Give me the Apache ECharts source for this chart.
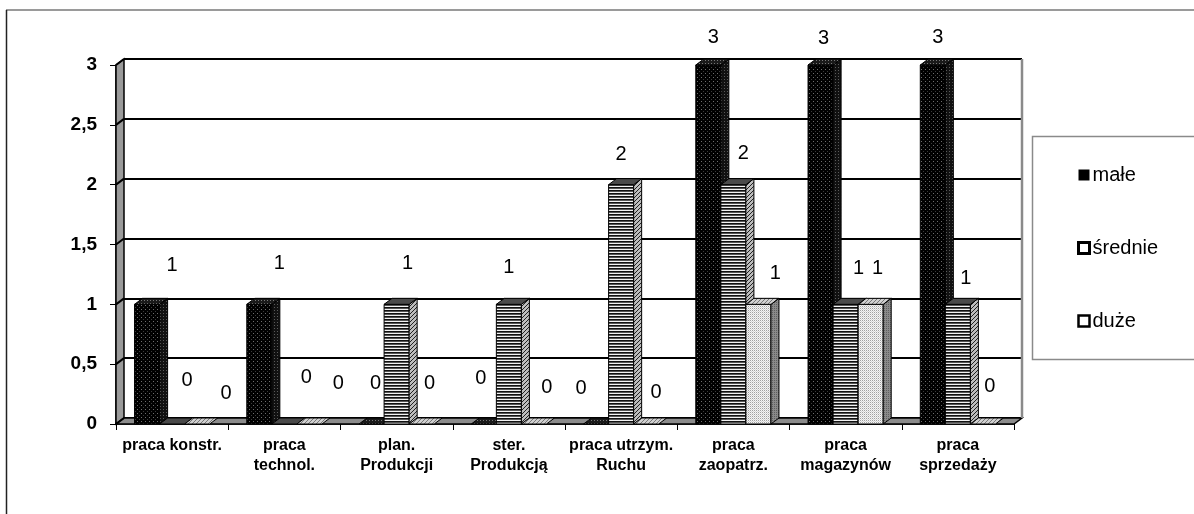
<!DOCTYPE html>
<html>
<head>
<meta charset="utf-8">
<script src="https://cdn.jsdelivr.net/npm/echarts@6/dist/echarts.min.js"></script>
<style>
  html, body { margin: 0; padding: 0; background: #fff; }
  #chart { width: 1194px; height: 514px; }
</style>
</head>
<body>
<div id="chart"></div>
<script>
// Categories of work and counts of companies by size
const categories = [
  'praca konstr.', 'praca\ntechnol.', 'plan.\nProdukcji', 'ster.\nProdukcją',
  'praca utrzym.\nRuchu', 'praca\nzaopatrz.', 'praca\nmagazynów', 'praca\nsprzedaży'
];
const seriesNames = ['małe', 'średnie', 'duże'];
const male    = [1, 1, 0, 0, 0, 3, 3, 3];
const srednie = [0, 0, 1, 1, 2, 2, 1, 1];
const duze    = [0, 0, 0, 0, 0, 1, 1, 0];
const yTicks  = [0, 0.5, 1, 1.5, 2, 2.5, 3];

// Per-point nudges of the value labels relative to the top of each column
const labelNudge = [
  [[25, -39], [20, -41], [4, -41], [-3, -46], [-15, -36], [5, -28], [3, -27], [5, -28]],
  [[15, -44], [22, -47], [11, -41], [0, -37], [0, -30], [10, -31], [13, -36], [8, -26]],
  [[29, -31], [29, -41], [8, -41], [13, -37], [10, -32], [17, -31], [7, -36], [7, -38]]
];

const FONT = 'Arial, "Liberation Sans", sans-serif';
const DEPTH_X = 8, DEPTH_Y = -6;      // pseudo-3D depth of walls and columns
const BAR_SHARE = 25 / 112;           // column width as part of a category band

function pattern(w, h, draw) {
  const c = document.createElement('canvas');
  c.width = w; c.height = h;
  const ctx = c.getContext('2d');
  draw(ctx);
  return { image: c, repeat: 'repeat' };
}
function px(ctx, x, y, col) { ctx.fillStyle = col; ctx.fillRect(x, y, 1, 1); }

// Fills: front, side and top faces for each series
const fills = [
  {
    front: pattern(4, 4, c => { c.fillStyle = '#000'; c.fillRect(0, 0, 4, 4); px(c, 1, 1, '#6e6e6e'); px(c, 3, 3, '#3a3a3a'); }),
    side:  pattern(3, 3, c => { c.fillStyle = '#111'; c.fillRect(0, 0, 3, 3); px(c, 1, 1, '#5a5a5a'); }),
    top:   pattern(3, 3, c => { c.fillStyle = '#1a1a1a'; c.fillRect(0, 0, 3, 3); px(c, 0, 0, '#777'); })
  },
  {
    front: pattern(1, 3, c => { px(c, 0, 0, '#f2f2f2'); px(c, 0, 1, '#111'); px(c, 0, 2, '#555'); }),
    side:  pattern(4, 4, c => { c.fillStyle = '#bdbdbd'; c.fillRect(0, 0, 4, 4); px(c, 0, 3, '#222'); px(c, 1, 2, '#222'); px(c, 2, 1, '#222'); px(c, 3, 0, '#222'); }),
    top:   '#4a4a4a'
  },
  {
    front: pattern(2, 2, c => { c.fillStyle = '#f4f4f4'; c.fillRect(0, 0, 2, 2); px(c, 0, 0, '#a0a0a0'); px(c, 1, 1, '#d4d4d4'); }),
    side:  pattern(2, 2, c => { c.fillStyle = '#8a8a8a'; c.fillRect(0, 0, 2, 2); px(c, 0, 0, '#5e5e5e'); }),
    top:   pattern(4, 4, c => { c.fillStyle = '#d0d0d0'; c.fillRect(0, 0, 4, 4); px(c, 0, 3, '#777'); px(c, 1, 2, '#777'); px(c, 2, 1, '#777'); px(c, 3, 0, '#777'); })
  }
];

const seriesValues = [male, srednie, duze];

function columnRenderer(k) {
  return function (params, api) {
    const i = api.value(0), v = api.value(1);
    const base = api.coord([i, 0]);
    const top = api.coord([i, v]);
    const bw = api.size([1, 0])[0] * BAR_SHARE;
    const x0 = base[0] + (k - 1.5) * bw;
    const x1 = x0 + bw;
    const yb = base[1], yt = top[1];
    const f = fills[k];
    const edge = { stroke: '#000', lineWidth: 1 };
    const children = [];
    if (yb - yt > 0.5) {
      children.push({ type: 'rect', shape: { x: x0, y: yt, width: bw, height: yb - yt },
        style: Object.assign({ fill: f.front }, edge) });
      children.push({ type: 'polygon', shape: { points: [[x1, yt], [x1 + DEPTH_X, yt + DEPTH_Y], [x1 + DEPTH_X, yb + DEPTH_Y], [x1, yb]] },
        style: Object.assign({ fill: f.side }, edge) });
    }
    children.push({ type: 'polygon', shape: { points: [[x0, yt], [x0 + DEPTH_X, yt + DEPTH_Y], [x1 + DEPTH_X, yt + DEPTH_Y], [x1, yt]] },
      style: Object.assign({ fill: f.top }, edge) });
    const n = labelNudge[k][i];
    children.push({ type: 'text', silent: true,
      style: { text: String(v), x: x0 + bw / 2 + n[0], y: yt + n[1],
        align: 'center', verticalAlign: 'middle', font: '20px ' + FONT, fill: '#000' } });
    return { type: 'group', children };
  };
}

// Left wall, floor and wall gridline returns drawn from the front grid rectangle
function frameRenderer(params, api) {
  const r = params.coordSys;
  const x = r.x, y = r.y, w = r.width, h = r.height;
  const children = [
    { type: 'polygon', shape: { points: [[x, y], [x + DEPTH_X, y + DEPTH_Y], [x + DEPTH_X, y + h + DEPTH_Y], [x, y + h]] },
      style: { fill: '#9a9a9a', stroke: '#000', lineWidth: 1.5 } },
    { type: 'polygon', shape: { points: [[x, y + h], [x + DEPTH_X, y + h + DEPTH_Y], [x + w + DEPTH_X, y + h + DEPTH_Y], [x + w, y + h]] },
      style: { fill: '#8c8c8c', stroke: '#000', lineWidth: 1.5 } },
    { type: 'line', shape: { x1: x + w + DEPTH_X, y1: y + DEPTH_Y, x2: x + w + DEPTH_X, y2: y + h + DEPTH_Y },
      style: { stroke: '#8a8a8a', lineWidth: 2.5 } }
  ];
  yTicks.forEach(t => {
    const yf = api.coord([0, t])[1];
    children.push({ type: 'line', shape: { x1: x, y1: yf, x2: x + DEPTH_X, y2: yf + DEPTH_Y },
      style: { stroke: '#000', lineWidth: 2 } });
  });
  return { type: 'group', children };
}

const chart = echarts.init(document.getElementById('chart'), null, { renderer: 'canvas' });

const option = {
  animation: false,
  backgroundColor: '#fff',
  textStyle: { fontFamily: FONT },
  grid: [
    { left: 116, top: 65, width: 898, height: 359 },
    { left: 124, top: 59, width: 898, height: 359 }
  ],
  xAxis: [
    {
      type: 'category', gridIndex: 0, data: categories,
      axisLine: { lineStyle: { color: '#000', width: 1.5 } },
      axisTick: { show: true, length: 6, lineStyle: { color: '#000' } },
      axisLabel: { color: '#000', fontWeight: 'bold', fontSize: 16, lineHeight: 20, margin: 12, interval: 0, fontFamily: FONT }
    },
    { type: 'category', gridIndex: 1, data: categories, show: false }
  ],
  yAxis: [
    {
      type: 'value', gridIndex: 0, min: 0, max: 3, interval: 0.5,
      axisLine: { show: true, lineStyle: { color: '#000', width: 1.5 } },
      axisTick: { show: true, length: 6, lineStyle: { color: '#000' } },
      splitLine: { show: false },
      axisLabel: { color: '#000', fontWeight: 'bold', fontSize: 19, margin: 19, fontFamily: FONT,
        formatter: v => String(v).replace('.', ',') }
    },
    {
      type: 'value', gridIndex: 1, min: 0, max: 3, interval: 0.5,
      axisLine: { show: false }, axisTick: { show: false }, axisLabel: { show: false },
      splitLine: { show: true, lineStyle: { color: '#000', width: 2 } }
    }
  ],
  legend: {
    orient: 'vertical', left: 1072, top: 160, itemGap: 53,
    itemWidth: 11, itemHeight: 11, icon: 'rect',
    textStyle: { fontSize: 20, color: '#000', fontFamily: FONT, padding: [0, 0, 0, -2] },
    data: [
      { name: seriesNames[0], itemStyle: { color: '#000', borderColor: '#000', borderWidth: 0 } },
      { name: seriesNames[1], itemStyle: { color: '#fff', borderColor: '#000', borderWidth: 3 } },
      { name: seriesNames[2], itemStyle: { color: '#fff', borderColor: '#000', borderWidth: 2.5 } }
    ]
  },
  graphic: [
    { type: 'line', shape: { x1: 6, y1: 10, x2: 1194, y2: 10 }, style: { stroke: '#9a9a9a', lineWidth: 2 }, z: 0 },
    { type: 'line', shape: { x1: 6.5, y1: 10, x2: 6.5, y2: 514 }, style: { stroke: '#222', lineWidth: 1.5 }, z: 0 },
    { type: 'rect', shape: { x: 1032.5, y: 136.5, width: 170, height: 223 }, style: { fill: 'none', stroke: '#8a8a8a', lineWidth: 1.5 }, z: 0 }
  ],
  series: [
    { type: 'custom', name: 'frame', xAxisIndex: 0, yAxisIndex: 0, z: 1, silent: true,
      renderItem: frameRenderer, data: [[0, 0]] }
  ].concat(seriesValues.map((vals, k) => ({
    type: 'custom', name: seriesNames[k], xAxisIndex: 0, yAxisIndex: 0, z: 2,
    itemStyle: { color: k === 0 ? '#000' : '#fff' },
    renderItem: columnRenderer(k),
    encode: { x: 0, y: 1 },
    data: vals.map((v, i) => [i, v])
  })))
};

chart.setOption(option);
</script>
</body>
</html>
